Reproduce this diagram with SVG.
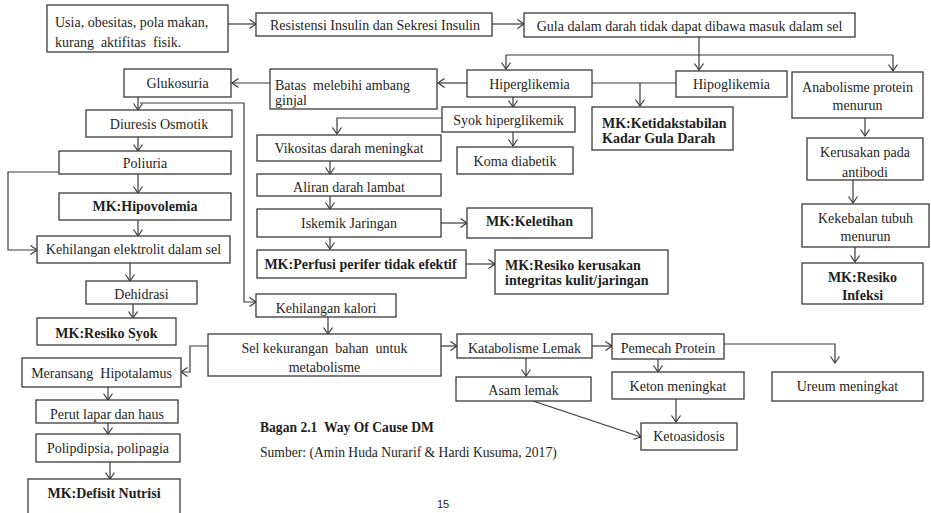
<svg xmlns="http://www.w3.org/2000/svg" width="931" height="513" viewBox="0 0 931 513">
<style>
  .bg{fill:#ffffff}
  rect.b{fill:#ffffff;stroke:#3a3a3a;stroke-width:1.3}
  text{font-family:"Liberation Serif","Times New Roman",serif;font-size:14px;fill:#1e1e1e}
  .c{text-anchor:middle}
  .bd{font-weight:bold}
  .con path,.con line,.con polyline{fill:none;stroke:#3a3a3a;stroke-width:1.2}
  .cap{font-size:13.6px}
  .pg{font-family:"Liberation Sans",Arial,sans-serif;font-size:11px}
</style>
<defs>
  <marker id="ah" viewBox="-8 -6 10 12" refX="0" refY="0" markerWidth="10" markerHeight="12" markerUnits="userSpaceOnUse" orient="auto">
    <path d="M-6.5,-4.5 L0,0 L-6.5,4.5" fill="none" stroke="#3a3a3a" stroke-width="1.2"/>
  </marker>
</defs>
<rect class="bg" x="0" y="0" width="931" height="513"/>

<g class="con" id="connectors">
  <line x1="228" y1="24" x2="256" y2="24" marker-end="url(#ah)"/>
  <line x1="492" y1="24" x2="524" y2="24" marker-end="url(#ah)"/>
  <line x1="699" y1="37" x2="699" y2="55"/>
  <line x1="506" y1="55" x2="893" y2="55"/>
  <line x1="506" y1="55" x2="506" y2="69" marker-end="url(#ah)"/>
  <line x1="699" y1="55" x2="699" y2="70" marker-end="url(#ah)"/>
  <line x1="893" y1="55" x2="893" y2="71" marker-end="url(#ah)"/>
  <line x1="592" y1="83" x2="676" y2="83"/>
  <line x1="640" y1="83" x2="640" y2="106" marker-end="url(#ah)"/>
  <line x1="467" y1="83" x2="438" y2="83" marker-end="url(#ah)"/>
  <line x1="270" y1="83" x2="232" y2="83" marker-end="url(#ah)"/>
  <line x1="513" y1="97" x2="513" y2="107" marker-end="url(#ah)"/>
  <polyline points="442,118 337,118 337,134" marker-end="url(#ah)"/>
  <line x1="513" y1="132" x2="513" y2="146" marker-end="url(#ah)"/>
  <line x1="330" y1="161" x2="330" y2="174" marker-end="url(#ah)"/>
  <line x1="330" y1="196" x2="330" y2="209" marker-end="url(#ah)"/>
  <line x1="441" y1="223" x2="467" y2="223" marker-end="url(#ah)"/>
  <line x1="330" y1="237" x2="330" y2="249" marker-end="url(#ah)"/>
  <line x1="466" y1="264" x2="495" y2="264" marker-end="url(#ah)"/>
  <line x1="138" y1="97" x2="138" y2="110" marker-end="url(#ah)"/>
  <polyline points="140,103 244,103 244,302 256,302" marker-end="url(#ah)"/>
  <line x1="138" y1="137" x2="138" y2="151" marker-end="url(#ah)"/>
  <line x1="138" y1="174" x2="138" y2="193" marker-end="url(#ah)"/>
  <polyline points="59,172 8,172 8,250 37,250" marker-end="url(#ah)"/>
  <line x1="138" y1="220" x2="138" y2="236" marker-end="url(#ah)"/>
  <line x1="130" y1="263" x2="130" y2="281" marker-end="url(#ah)"/>
  <line x1="133" y1="304" x2="133" y2="318" marker-end="url(#ah)"/>
  <line x1="328" y1="317" x2="328" y2="334" marker-end="url(#ah)"/>
  <polyline points="208,346 190,346 190,372 181,372" marker-end="url(#ah)"/>
  <line x1="108" y1="387" x2="108" y2="400" marker-end="url(#ah)"/>
  <line x1="108" y1="423" x2="108" y2="434" marker-end="url(#ah)"/>
  <line x1="110" y1="462" x2="110" y2="479" marker-end="url(#ah)"/>
  <line x1="441" y1="346" x2="457" y2="346" marker-end="url(#ah)"/>
  <line x1="592" y1="346" x2="612" y2="346" marker-end="url(#ah)"/>
  <polyline points="724,344 835,344 835,363" marker-end="url(#ah)"/>
  <line x1="526" y1="358" x2="526" y2="376" marker-end="url(#ah)"/>
  <line x1="658" y1="359" x2="658" y2="372" marker-end="url(#ah)"/>
  <line x1="676" y1="399" x2="676" y2="422" marker-end="url(#ah)"/>
  <line x1="533" y1="401" x2="641" y2="437" marker-end="url(#ah)"/>
  <line x1="865" y1="118" x2="865" y2="136" marker-end="url(#ah)"/>
  <line x1="853" y1="180" x2="853" y2="203" marker-end="url(#ah)"/>
  <line x1="855" y1="247" x2="855" y2="262" marker-end="url(#ah)"/>
</g>

<g id="n-usia"><rect class="b" x="47" y="5" width="181" height="47"/>
  <text x="55" y="26.5">Usia, obesitas, pola makan,</text>
  <text x="55" y="46.5" xml:space="preserve">kurang  aktifitas  fisik.</text></g>
<g id="n-resistensi"><rect class="b" x="256" y="13" width="236" height="23"/>
  <text class="c" x="375" y="29.5">Resistensi Insulin dan Sekresi Insulin</text></g>
<g id="n-gula"><rect class="b" x="524" y="13" width="331" height="24"/>
  <text class="c" x="689.5" y="30.5">Gula dalam darah tidak dapat dibawa masuk dalam sel</text></g>
<g id="n-hiper"><rect class="b" x="467" y="70" width="125" height="27"/>
  <text class="c" x="529.5" y="88.5">Hiperglikemia</text></g>
<g id="n-hipo"><rect class="b" x="676" y="71" width="111" height="26"/>
  <text class="c" x="731.5" y="88.5">Hipoglikemia</text></g>
<g id="n-anabolisme"><rect class="b" x="792" y="72" width="131" height="46"/>
  <text class="c" x="857.5" y="91.5">Anabolisme protein</text>
  <text class="c" x="857.5" y="109.5">menurun</text></g>
<g id="n-ketidakstabilan"><rect class="b" x="592" y="107" width="141" height="43"/>
  <text class="bd" x="602" y="128">MK:Ketidakstabilan</text>
  <text class="bd" x="602" y="143">Kadar Gula Darah</text></g>
<g id="n-batas"><rect class="b" x="270" y="69" width="167" height="40"/>
  <text x="275" y="90" xml:space="preserve">Batas  melebihi ambang</text>
  <text x="275" y="105">ginjal</text></g>
<g id="n-glukosuria"><rect class="b" x="124" y="69" width="107" height="28"/>
  <text class="c" x="177.5" y="88">Glukosuria</text></g>
<g id="n-diuresis"><rect class="b" x="86" y="110" width="146" height="27"/>
  <text class="c" x="159" y="129">Diuresis Osmotik</text></g>
<g id="n-poliuria"><rect class="b" x="59" y="151" width="172" height="23"/>
  <text class="c" x="145" y="168">Poliuria</text></g>
<g id="n-hipovolemia"><rect class="b" x="59" y="193" width="172" height="27"/>
  <text class="c bd" x="145" y="211">MK:Hipovolemia</text></g>
<g id="n-elektrolit"><rect class="b" x="37" y="236" width="193" height="27"/>
  <text class="c" x="133.5" y="253.5">Kehilangan elektrolit dalam sel</text></g>
<g id="n-dehidrasi"><rect class="b" x="86" y="281" width="111" height="23"/>
  <text class="c" x="141.5" y="299">Dehidrasi</text></g>
<g id="n-resikosyok"><rect class="b" x="37" y="318" width="139" height="27"/>
  <text class="c bd" x="106.5" y="337.5">MK:Resiko Syok</text></g>
<g id="n-syok"><rect class="b" x="442" y="107" width="133" height="25"/>
  <text class="c" x="508.5" y="125">Syok hiperglikemik</text></g>
<g id="n-koma"><rect class="b" x="457" y="147" width="116" height="27"/>
  <text class="c" x="515" y="166">Koma diabetik</text></g>
<g id="n-vikositas"><rect class="b" x="257" y="135" width="184" height="26"/>
  <text class="c" x="349" y="153">Vikositas darah meningkat</text></g>
<g id="n-aliran"><rect class="b" x="257" y="174" width="184" height="22"/>
  <text class="c" x="349" y="192">Aliran darah lambat</text></g>
<g id="n-iskemik"><rect class="b" x="257" y="209" width="184" height="28"/>
  <text class="c" x="349" y="228">Iskemik Jaringan</text></g>
<g id="n-keletihan"><rect class="b" x="467" y="208" width="125" height="30"/>
  <text class="c bd" x="529.5" y="226">MK:Keletihan</text></g>
<g id="n-perfusi"><rect class="b" x="257" y="250" width="209" height="28"/>
  <text class="c bd" x="360.5" y="268.5">MK:Perfusi perifer tidak efektif</text></g>
<g id="n-resikokerusakan"><rect class="b" x="495" y="250" width="173" height="44"/>
  <text class="bd" x="505" y="270">MK:Resiko kerusakan</text>
  <text class="bd" x="505" y="285">integritas kulit/jaringan</text></g>
<g id="n-kerusakan"><rect class="b" x="807" y="138" width="116" height="42"/>
  <text class="c" x="865" y="157">Kerusakan pada</text>
  <text class="c" x="865" y="176.5">antibodi</text></g>
<g id="n-kekebalan"><rect class="b" x="802" y="204" width="127" height="43"/>
  <text class="c" x="865.5" y="223">Kekebalan tubuh</text>
  <text class="c" x="865.5" y="241">menurun</text></g>
<g id="n-infeksi"><rect class="b" x="802" y="263" width="121" height="41"/>
  <text class="c bd" x="862.5" y="282">MK:Resiko</text>
  <text class="c bd" x="862.5" y="300">Infeksi</text></g>
<g id="n-kalori"><rect class="b" x="256" y="294" width="140" height="23"/>
  <text class="c" x="326" y="313">Kehilangan kalori</text></g>
<g id="n-sel"><rect class="b" x="208" y="334" width="233" height="42"/>
  <text class="c" x="324.5" y="353" xml:space="preserve">Sel kekurangan  bahan  untuk</text>
  <text class="c" x="324.5" y="372">metabolisme</text></g>
<g id="n-meransang"><rect class="b" x="22" y="358" width="159" height="29"/>
  <text class="c" x="101.5" y="378" xml:space="preserve">Meransang  Hipotalamus</text></g>
<g id="n-perut"><rect class="b" x="36" y="400" width="142" height="23"/>
  <text class="c" x="107" y="418.5">Perut lapar dan haus</text></g>
<g id="n-polip"><rect class="b" x="36" y="434" width="144" height="28"/>
  <text class="c" x="108" y="452.5">Polipdipsia, polipagia</text></g>
<g id="n-defisit"><rect class="b" x="28" y="479" width="152" height="42"/>
  <text class="c bd" x="104" y="498">MK:Defisit Nutrisi</text></g>
<g id="n-katabolisme"><rect class="b" x="457" y="334" width="135" height="24"/>
  <text class="c" x="524.5" y="352.5">Katabolisme Lemak</text></g>
<g id="n-pemecah"><rect class="b" x="612" y="334" width="112" height="25"/>
  <text class="c" x="668" y="352.5">Pemecah Protein</text></g>
<g id="n-asam"><rect class="b" x="456" y="377" width="135" height="24"/>
  <text class="c" x="523.5" y="395">Asam lemak</text></g>
<g id="n-keton"><rect class="b" x="612" y="372" width="132" height="27"/>
  <text class="c" x="678" y="390.5">Keton meningkat</text></g>
<g id="n-ureum"><rect class="b" x="772" y="372" width="151" height="29"/>
  <text class="c" x="847.5" y="390.5">Ureum meningkat</text></g>
<g id="n-ketoasidosis"><rect class="b" x="641" y="423" width="96" height="27"/>
  <text class="c" x="689" y="441">Ketoasidosis</text></g>

<g id="caption">
  <text class="bd cap" x="260" y="432" xml:space="preserve">Bagan 2.1  Way Of Cause DM</text>
  <text class="cap" x="260" y="457">Sumber: (Amin Huda Nurarif &amp; Hardi Kusuma, 2017)</text>
  <text class="pg" x="437" y="508">15</text>
</g>
</svg>
